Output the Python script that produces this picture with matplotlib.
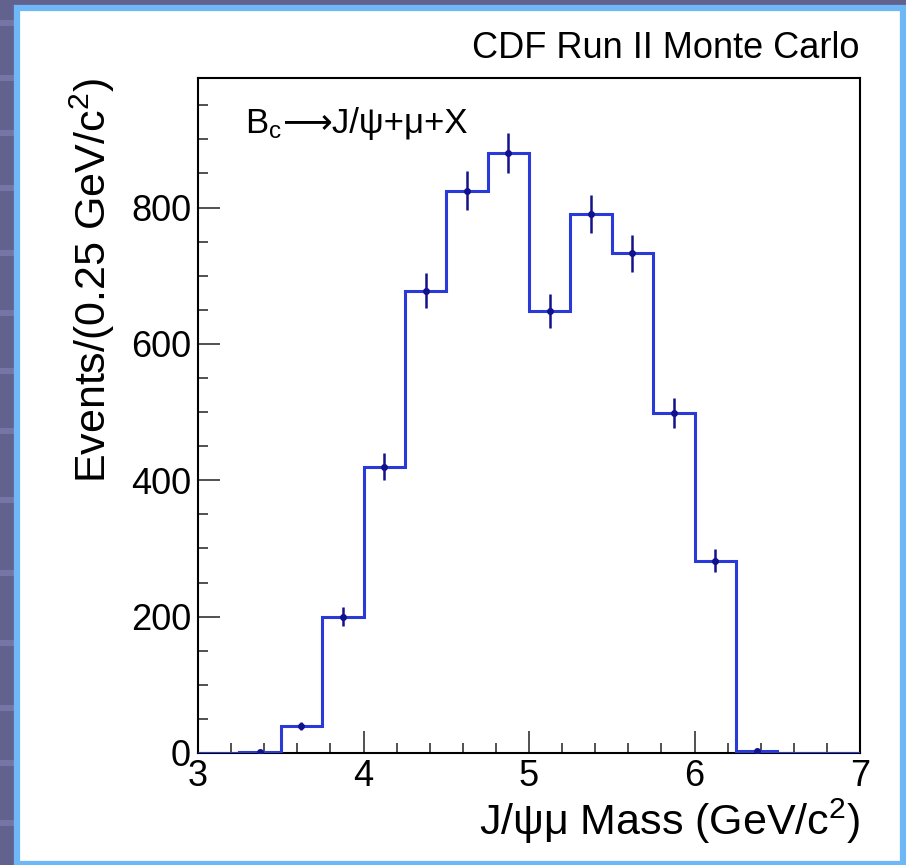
import numpy as np
import matplotlib
matplotlib.use("Agg")
from matplotlib import pyplot as plt
from matplotlib.patches import Rectangle
from matplotlib.ticker import MultipleLocator

# histogram of J/psi mu mass, 0.25 GeV bins from 3 to 7
edges = np.arange(3.0, 7.01, 0.25)
counts = [0, 2, 40, 200, 420, 678, 825, 880, 648, 790, 733, 498, 282, 3, 0, 0]
errors = [0, 1.5, 6, 14, 20, 26, 29, 30, 25, 28, 27, 22, 17, 1.7, 0, 0]

title_txt = "CDF Run II Monte Carlo"
decay_a = r"B$_\mathregular{c}$"
decay_b = "⟶J/ψ+μ+X"
xlab = r"J/ψμ Mass (GeV/c$^\mathregular{2}$)"
ylab = r"Events/(0.25 GeV/c$^\mathregular{2}$)"

plt.rcParams['font.family'] = ['Liberation Sans', 'DejaVu Sans']
plt.rcParams['mathtext.default'] = 'regular'

W, H = 906, 865
fig = plt.figure(figsize=(W / 100, H / 100), dpi=100, facecolor='#62628f')

# slide background stripes + white panel
for yy in [20, 75, 130, 185, 250, 310, 368, 428, 497, 570, 640, 705, 760, 820]:
	fig.patches.append(Rectangle((0, 1 - (yy + 6) / H), 1, 6 / H, transform=fig.transFigure,
		facecolor='#7676a6', edgecolor='none', zorder=0))
fig.patches.append(Rectangle((17 / W, 1 - 864 / H), 886 / W, 856 / H, transform=fig.transFigure,
	facecolor='white', edgecolor='#6fb8f8', linewidth=4.5, zorder=1))

ax = fig.add_axes([198 / W, 1 - 753 / H, 662 / W, 675 / H])
ax.set_zorder(2)
ax.stairs(counts, edges, color='#2a3ad8', linewidth=2.2, zorder=3)

centers = 0.5 * (edges[:-1] + edges[1:])
cnt = np.array(counts, dtype=float)
err = np.array(errors, dtype=float)
m = cnt > 0
ax.errorbar(centers[m], cnt[m], yerr=err[m], fmt='o', ms=4, color='#12128c',
	elinewidth=1.8, capsize=0, zorder=4)

ax.set_xlim(3, 7)
ax.set_ylim(0, 990)
ax.xaxis.set_major_locator(MultipleLocator(1))
ax.xaxis.set_minor_locator(MultipleLocator(0.2))
ax.yaxis.set_major_locator(MultipleLocator(200))
ax.yaxis.set_minor_locator(MultipleLocator(50))
ax.tick_params(which='both', direction='in', top=False, right=False, width=1.2, color='#333333')
ax.tick_params(which='major', length=16, labelsize=26, pad=5)
ax.tick_params(which='minor', length=7)
ax.tick_params(axis='x', which='major', pad=4)
for s in ax.spines.values():
	s.set_linewidth(1.5)

ax.set_xlabel(xlab, fontsize=31, loc='right', labelpad=2)
ax.set_ylabel(ylab, fontsize=31, loc='top', labelpad=10)

fig.text(860 / W, 1 - 48 / H, title_txt, fontsize=26, ha='right', va='center')
yb = 1 - 133 / H
t1 = fig.text(245 / W, yb, decay_a, fontsize=25, ha='left', va='baseline')
fig.add_artist(plt.Annotation(decay_b, xy=(1, yb), xycoords=(t1, 'figure fraction'),
	fontsize=25, ha='left', va='baseline'))

plt.savefig('out.png', dpi=100, facecolor=fig.get_facecolor())
